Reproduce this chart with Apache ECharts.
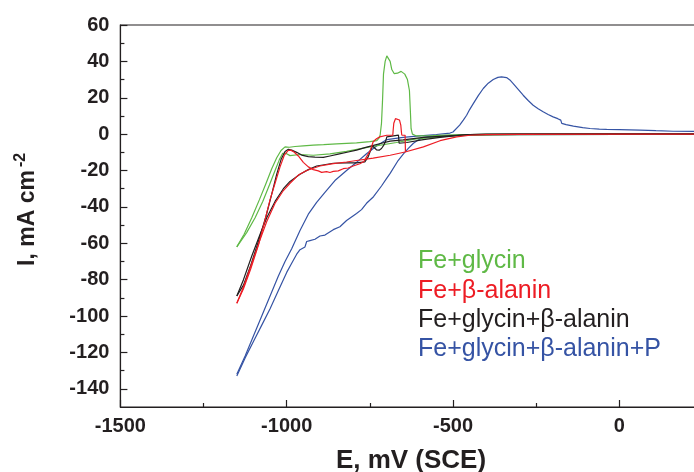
<!DOCTYPE html>
<html>
<head>
<meta charset="utf-8">
<script src="https://cdn.jsdelivr.net/npm/echarts@6/dist/echarts.min.js"></script>
<style>
  html, body { margin: 0; padding: 0; background: #ffffff; }
  #chart { width: 694px; height: 472px; }
</style>
</head>
<body>
<div id="chart"></div>
<script>
// Cyclic voltammograms: current density I (mA cm^-2) against potential E (mV vs SCE)

const seriesNames = ['Fe+glycin', 'Fe+β-alanin', 'Fe+glycin+β-alanin', 'Fe+glycin+β-alanin+P'];
const seriesColors = ['#5fb946', '#ed1c24', '#231f20', '#3553a4'];

const xRange = [-1500, 500];
const yRange = [-150, 60];
const xTickStep = 500;
const yTickLabels = [-140, -120, -100, -80, -60, -40, -20, 0, 20, 40, 60];
const yMinorTicks = [-130, -110, -90, -70, -50, -30, -10, 10, 30, 50];

// Fe+glycin: anodic sweep with the sharp oxidation peak near -700 mV
const glycinForward = [
  [-1150, -62], [-1128, -55], [-1105, -46], [-1082, -36], [-1062, -27], [-1045, -19],
  [-1030, -13], [-1017, -9], [-1005, -7], [-992, -7.2], [-975, -6.8], [-950, -6.4],
  [-920, -6], [-889, -5.8], [-850, -5.3], [-790, -4.8], [-750, -4.1], [-729, -3.6],
  [-722, -2], [-719, -0.5], [-715, 6], [-712, 18], [-709, 33], [-704, 40], [-699, 43],
  [-694, 44], [-689, 40], [-684, 35.5], [-677, 33.3], [-667, 33.5], [-656, 34.5],
  [-645, 33], [-637, 30], [-631, 24], [-628, 12], [-626, 3], [-622, 0], [-610, -1],
  [-560, -0.8], [-500, -0.4], [-400, -0.1], [0, 0.1], [300, 0.1]
];
// Fe+glycin: return sweep
const glycinReverse = [
  [300, -0.1], [0, -0.2], [-300, -0.3], [-449, -0.6], [-500, -1], [-560, -1.8],
  [-610, -2.6], [-670, -4.6], [-750, -7], [-820, -9.5], [-870, -10.8], [-920, -11.6],
  [-960, -11.2], [-990, -11.8], [-1003, -10.5], [-1012, -10.5], [-1022, -14],
  [-1035, -20], [-1052, -28], [-1072, -37], [-1095, -46], [-1120, -54], [-1150, -62]
];

// Fe+β-alanin: smooth branch
const alaninSmooth = [
  [-1150, -93], [-1130, -84], [-1105, -71], [-1080, -58], [-1060, -48], [-1035, -38],
  [-1010, -31], [-990, -27], [-965, -22.5], [-940, -20], [-900, -17.5], [-860, -16.2],
  [-820, -15.3], [-790, -14.5], [-740, -13.2], [-689, -11.6], [-644, -9.8], [-589, -7],
  [-539, -3.6], [-489, -1.5], [-449, -0.6], [-400, -0.3], [-300, -0.1], [0, 0], [300, 0]
];
// Fe+β-alanin: branch with the passivation dip and the small peak near -670 mV
const alaninPeak = [
  [-1150, -93], [-1130, -85], [-1108, -74], [-1085, -61], [-1065, -47], [-1050, -36],
  [-1035, -27], [-1020, -18], [-1007, -11.5], [-996, -9], [-988, -8.8], [-978, -9.8],
  [-965, -12], [-950, -15.5], [-935, -18], [-920, -19.5], [-905, -20.2], [-895, -21],
  [-880, -20.6], [-870, -21.1], [-860, -20.5], [-845, -20.2], [-830, -19], [-815, -18.6],
  [-800, -17.5], [-780, -16.3], [-768, -15], [-760, -12.5], [-750, -9.5], [-745, -7],
  [-740, -4.2], [-730, -2.5], [-720, -1.5], [-699, -0.6], [-681, -0.6], [-680, 2],
  [-678, 6], [-673, 8.5], [-667, 8.8], [-661, 7.8], [-657, 5], [-655, 1], [-654, -0.5],
  [-644, -0.6], [-643, -9.8]
];

// Fe+glycin+β-alanin: smooth branch with the small loop near -720 mV
const mixedSmooth = [
  [-1150, -89], [-1130, -80], [-1105, -67], [-1080, -55], [-1060, -46], [-1035, -37],
  [-1010, -30], [-990, -26], [-960, -22], [-935, -19.5], [-910, -17.5], [-860, -16],
  [-820, -15.8], [-790, -15.8], [-765, -15.2], [-755, -12.5], [-748, -9], [-742, -6.5],
  [-736, -7.5], [-730, -8.6], [-722, -8.8], [-715, -7.9], [-708, -6], [-703, -4.2],
  [-699, -1.5], [-694, -0.6], [-664, -0.5], [-662, -5], [-639, -4.6], [-589, -3],
  [-539, -1.8], [-490, -0.8], [-449, -0.2], [-400, 0], [0, 0.1], [300, 0.1]
];
// Fe+glycin+β-alanin: steep branch and upper passive branch
const mixedSteep = [
  [-1150, -89], [-1130, -83], [-1108, -72], [-1085, -59], [-1062, -45], [-1045, -33],
  [-1030, -22], [-1017, -14], [-1005, -9.5], [-995, -8.3], [-985, -8.8], [-970, -10],
  [-955, -11.5], [-935, -12.4], [-915, -12.6], [-890, -12.8], [-870, -12], [-845, -11],
  [-815, -9.8], [-790, -8.8], [-765, -7.4], [-742, -6.3], [-715, -5], [-689, -3.8],
  [-650, -3.2], [-589, -1.8], [-539, -1.2], [-449, -0.3], [-300, 0], [300, 0]
];

// Fe+glycin+β-alanin+P: anodic sweep with the broad peak near -350 mV
const phosForward = [
  [-1150, -132], [-1125, -122], [-1100, -111], [-1075, -100], [-1050, -89], [-1025, -78],
  [-1005, -70], [-985, -63], [-960, -53], [-935, -44], [-910, -37.5], [-885, -32],
  [-855, -25.5], [-820, -20], [-790, -15.5], [-760, -10.8], [-730, -6.5], [-699, -3],
  [-650, -1.8], [-609, -1.1], [-550, -0.2], [-509, 0.6], [-500, 1.2], [-497, 2.2],
  [-480, 5], [-469, 7.7], [-459, 10.4], [-450, 13.5], [-439, 16.8], [-424, 21.2],
  [-409, 25.1], [-394, 28], [-379, 30], [-365, 31.2], [-354, 31.5], [-339, 31.1],
  [-329, 29.8], [-319, 27.8], [-304, 24.6], [-289, 21.4], [-274, 18.5], [-259, 15.9],
  [-244, 14], [-229, 12.3], [-214, 10.8], [-199, 9.5], [-185, 8.5], [-176, 7.7],
  [-173, 5.9], [-160, 5.2], [-138, 4.4], [-110, 3.6], [-88, 3.1], [-60, 2.8],
  [-38, 2.6], [0, 2.5], [62, 2.2], [110, 1.9], [162, 1.6], [230, 1.5], [300, 1.4]
];
// Fe+glycin+β-alanin+P: return sweep
const phosReverse = [
  [300, 0], [0, -0.1], [-300, -0.3], [-450, -0.5], [-530, -0.8], [-570, -1.2],
  [-589, -1.8], [-605, -3.2], [-619, -5], [-635, -8], [-649, -10.8], [-665, -14.5],
  [-689, -21.6], [-700, -24.5], [-715, -28.5], [-739, -34.4], [-760, -38], [-775, -41.5],
  [-790, -43.6], [-805, -45.5], [-820, -47.5], [-840, -50.9], [-860, -52.5], [-885, -55.5],
  [-900, -56], [-915, -57.8], [-930, -58.5], [-940, -59], [-945, -62], [-950, -61],
  [-960, -63.5], [-970, -66], [-985, -71], [-1000, -76], [-1025, -86], [-1050, -96],
  [-1075, -105], [-1100, -114], [-1125, -123], [-1150, -133]
];

const inkColor = '#231f20';
const fontFamily = '"Liberation Sans", Arial, sans-serif';

function branch(nameIndex, data) {
  return {
    type: 'line',
    name: seriesNames[nameIndex],
    data: data,
    showSymbol: false,
    symbol: 'none',
    clip: true,
    lineStyle: { color: seriesColors[nameIndex], width: 1.2 },
    itemStyle: { color: seriesColors[nameIndex] },
    emphasis: { disabled: true }
  };
}

const chart = echarts.init(document.getElementById('chart'), null, { renderer: 'canvas' });

chart.setOption({
  animation: false,
  backgroundColor: '#ffffff',
  grid: {
    left: 120.4, top: 25, bottom: 65, right: -91.6,
    containLabel: false,
    outerBoundsMode: 'none',
    show: true, borderColor: inkColor, borderWidth: 1.2, backgroundColor: 'transparent'
  },
  xAxis: [{
    type: 'value',
    min: xRange[0], max: xRange[1], interval: xTickStep,
    axisLine: { show: true, onZero: false, lineStyle: { color: inkColor, width: 1.2 } },
    axisTick: { show: true, inside: true, length: 7, lineStyle: { color: inkColor, width: 1.2 } },
    minorTick: { show: true, splitNumber: 2, length: 4, lineStyle: { color: inkColor, width: 1.2 } },
    splitLine: { show: false },
    axisLabel: { color: inkColor, fontSize: 20, fontWeight: 'bold', fontFamily: fontFamily,
      margin: 9, formatter: v => String(v) }
  }],
  yAxis: [{
    type: 'value',
    min: yRange[0], max: yRange[1],
    axisLine: { show: true, onZero: false, lineStyle: { color: inkColor, width: 1.2 } },
    axisTick: { show: true, inside: true, length: 7, customValues: yTickLabels,
      lineStyle: { color: inkColor, width: 1.2 } },
    splitLine: { show: false },
    axisLabel: { customValues: yTickLabels, color: inkColor, fontSize: 20, fontWeight: 'bold',
      fontFamily: fontFamily, margin: 11, formatter: v => String(v) }
  }, {
    type: 'value',
    min: yRange[0], max: yRange[1],
    position: 'left', offset: 0,
    axisLine: { show: false, onZero: false },
    axisTick: { show: true, inside: true, length: 4, customValues: yMinorTicks,
      lineStyle: { color: inkColor, width: 1.2 } },
    axisLabel: { show: false },
    splitLine: { show: false }
  }],
  legend: {
    orient: 'vertical',
    left: 408, top: 244,
    itemWidth: 0, itemHeight: 0, itemGap: 4.3,
    icon: 'rect',
    selectedMode: false,
    textStyle: { fontSize: 25, fontFamily: fontFamily, lineHeight: 25 },
    data: seriesNames.map((n, i) => ({ name: n, textStyle: { color: seriesColors[i] } }))
  },
  graphic: [
    {
      type: 'text', x: 411, y: 461,
      style: { text: 'E, mV (SCE)', fill: inkColor, font: 'bold 26px ' + fontFamily,
        textAlign: 'center', textVerticalAlign: 'middle' }
    },
    {
      type: 'text', x: 28, y: 218, rotation: Math.PI / 2,
      style: { text: 'I, mA cm', fill: inkColor, font: 'bold 23px ' + fontFamily,
        textAlign: 'center', textVerticalAlign: 'middle' }
    },
    {
      type: 'text', x: 21, y: 160, rotation: Math.PI / 2,
      style: { text: '-2', fill: inkColor, font: 'bold 16px ' + fontFamily,
        textAlign: 'center', textVerticalAlign: 'middle' }
    }
  ],
  series: [
    branch(3, phosForward), branch(3, phosReverse),
    branch(0, glycinForward), branch(0, glycinReverse),
    branch(2, mixedSmooth), branch(2, mixedSteep),
    branch(1, alaninSmooth), branch(1, alaninPeak)
  ]
});
</script>
</body>
</html>
